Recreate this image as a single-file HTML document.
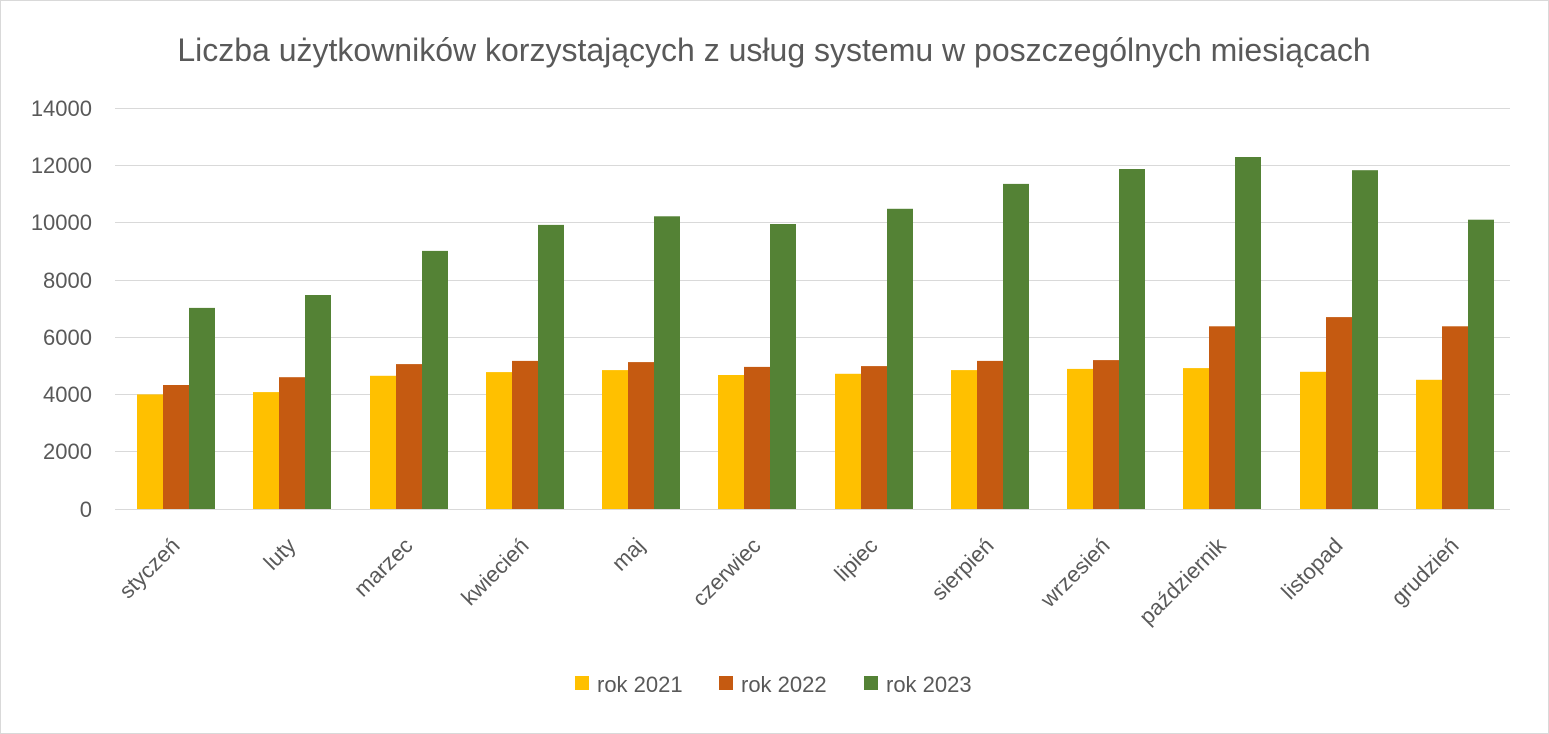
<!DOCTYPE html>
<html><head><meta charset="utf-8"><style>body{margin:0;background:#fff}svg{display:block}</style></head><body>
<svg width="1549" height="734" xmlns="http://www.w3.org/2000/svg" font-family="Liberation Sans, sans-serif">
<rect x="0.5" y="0.5" width="1548" height="733" fill="#fff" stroke="#d9d9d9"/>
<text x="774" y="61" text-anchor="middle" font-size="32" fill="#595959">Liczba użytkowników korzystających z usług systemu w poszczególnych miesiącach</text>
<g stroke="#d9d9d9" stroke-width="1">
<line x1="115" x2="1510" y1="108.5" y2="108.5"/><line x1="115" x2="1510" y1="165.5" y2="165.5"/><line x1="115" x2="1510" y1="222.5" y2="222.5"/><line x1="115" x2="1510" y1="280.5" y2="280.5"/><line x1="115" x2="1510" y1="337.5" y2="337.5"/><line x1="115" x2="1510" y1="394.5" y2="394.5"/><line x1="115" x2="1510" y1="451.5" y2="451.5"/><line x1="115" x2="1510" y1="509.5" y2="509.5"/>
</g>
<g font-size="22" fill="#595959" text-anchor="end">
<text x="92" y="116">14000</text><text x="92" y="173">12000</text><text x="92" y="230">10000</text><text x="92" y="288">8000</text><text x="92" y="345">6000</text><text x="92" y="402">4000</text><text x="92" y="459">2000</text><text x="92" y="517">0</text>
</g>
<g transform="translate(0,509) scale(1,-1)">
<g fill="#ffc000">
<rect x="137" y="0" width="26" height="114.6"/><rect x="253" y="0" width="26" height="116.9"/><rect x="370" y="0" width="26" height="133.2"/><rect x="486" y="0" width="26" height="136.9"/><rect x="602" y="0" width="26" height="138.9"/><rect x="718" y="0" width="26" height="134.0"/><rect x="835" y="0" width="26" height="135.2"/><rect x="951" y="0" width="26" height="138.9"/><rect x="1067" y="0" width="26" height="140.1"/><rect x="1183" y="0" width="26" height="140.9"/><rect x="1300" y="0" width="26" height="137.2"/><rect x="1416" y="0" width="26" height="129.2"/>
</g>
<g fill="#c55a11">
<rect x="163" y="0" width="26" height="124.0"/><rect x="279" y="0" width="26" height="131.8"/><rect x="396" y="0" width="26" height="144.9"/><rect x="512" y="0" width="26" height="148.1"/><rect x="628" y="0" width="26" height="146.9"/><rect x="744" y="0" width="26" height="142.1"/><rect x="861" y="0" width="26" height="142.9"/><rect x="977" y="0" width="26" height="148.1"/><rect x="1093" y="0" width="26" height="148.9"/><rect x="1209" y="0" width="26" height="182.7"/><rect x="1326" y="0" width="26" height="191.9"/><rect x="1442" y="0" width="26" height="182.7"/>
</g>
<g fill="#548235">
<rect x="189" y="0" width="26" height="201.1"/><rect x="305" y="0" width="26" height="214.0"/><rect x="422" y="0" width="26" height="258.1"/><rect x="538" y="0" width="26" height="284.1"/><rect x="654" y="0" width="26" height="292.7"/><rect x="770" y="0" width="26" height="285.0"/><rect x="887" y="0" width="26" height="300.2"/><rect x="1003" y="0" width="26" height="325.1"/><rect x="1119" y="0" width="26" height="340.0"/><rect x="1235" y="0" width="26" height="352.0"/><rect x="1352" y="0" width="26" height="338.8"/><rect x="1468" y="0" width="26" height="289.3"/>
</g>
</g>
<g font-size="22" fill="#595959" text-anchor="end">
<text transform="translate(181,547) rotate(-45)">styczeń</text>
<text transform="translate(297,547) rotate(-45)">luty</text>
<text transform="translate(414,547) rotate(-45)">marzec</text>
<text transform="translate(530,547) rotate(-45)">kwiecień</text>
<text transform="translate(646,547) rotate(-45)">maj</text>
<text transform="translate(762,547) rotate(-45)">czerwiec</text>
<text transform="translate(879,547) rotate(-45)">lipiec</text>
<text transform="translate(995,547) rotate(-45)">sierpień</text>
<text transform="translate(1111,547) rotate(-45)">wrzesień</text>
<text transform="translate(1227,547) rotate(-45)">październik</text>
<text transform="translate(1344,547) rotate(-45)">listopad</text>
<text transform="translate(1460,547) rotate(-45)">grudzień</text>
</g>
<g font-size="22" fill="#595959">
<rect x="575" y="676" width="14" height="14" fill="#ffc000"/><text x="597" y="692">rok 2021</text>
<rect x="719" y="676" width="14" height="14" fill="#c55a11"/><text x="741" y="692">rok 2022</text>
<rect x="864" y="676" width="14" height="14" fill="#548235"/><text x="886" y="692">rok 2023</text>
</g>
</svg>
</body></html>
